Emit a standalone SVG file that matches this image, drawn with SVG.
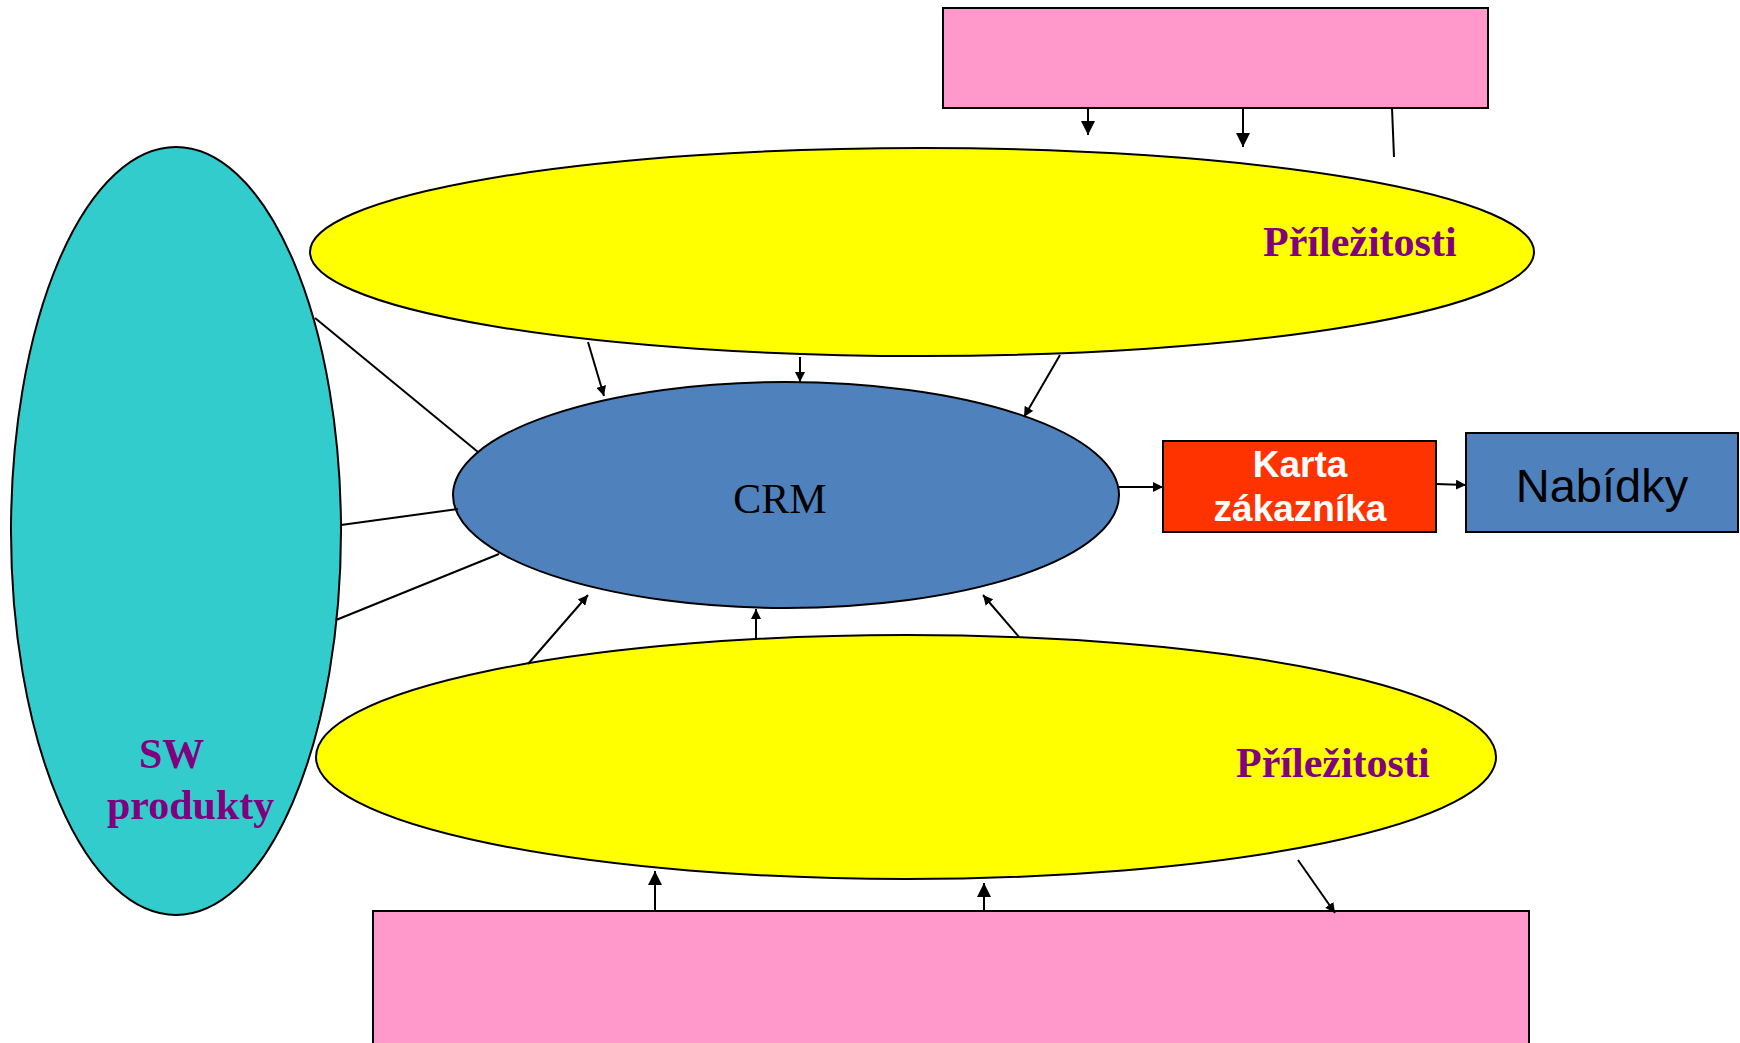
<svg xmlns="http://www.w3.org/2000/svg" width="1740" height="1043" viewBox="0 0 1740 1043">
<defs>
<style>
.sh{stroke:#000;stroke-width:2}
.ln{stroke:#000;stroke-width:2;fill:none}
.lab{font-family:"Liberation Serif","Times New Roman",serif;font-weight:bold;font-size:42px;fill:#800080}
</style>
<marker id="big" viewBox="0 0 10 10" refX="10" refY="5" markerWidth="7" markerHeight="7" markerUnits="strokeWidth" orient="auto"><path d="M0,0 L10,5 L0,10 z" fill="#000"/></marker>
<marker id="sm" viewBox="0 0 10 10" refX="10" refY="5" markerWidth="5" markerHeight="5" markerUnits="strokeWidth" orient="auto"><path d="M0,0 L10,5 L0,10 z" fill="#000"/></marker>
</defs>
<rect width="1740" height="1043" fill="#fff"/>
<g id="sw"><ellipse class="sh" cx="176" cy="531" rx="165" ry="384" fill="#33CCCC"/>
<text class="lab" x="139" y="768">SW</text><text class="lab" x="107" y="819">produkty</text></g>
<g id="prilezitosti-top"><ellipse class="sh" cx="922" cy="252" rx="612" ry="104" fill="#FFFF00"/>
<text class="lab" x="1263" y="256">Příležitosti</text></g>
<g id="prilezitosti-bottom"><ellipse class="sh" cx="906" cy="757" rx="590" ry="122" fill="#FFFF00"/>
<text class="lab" x="1236" y="777">Příležitosti</text></g>
<g id="crm"><ellipse class="sh" cx="786" cy="495" rx="333" ry="113" fill="#4F81BD"/>
<text x="780" y="513" text-anchor="middle" font-family="Liberation Serif,serif" font-size="42" fill="#000">CRM</text></g>
<g id="pink-top"><rect class="sh" x="943" y="8" width="545" height="100" fill="#FF99CC"/></g>
<g id="pink-bottom"><rect class="sh" x="373" y="911" width="1156" height="150" fill="#FF99CC"/></g>
<g id="karta"><rect class="sh" x="1163" y="441" width="273" height="91" fill="#FF3300"/>
<text x="1300" y="477" text-anchor="middle" font-family="Liberation Sans,Arial,sans-serif" font-weight="bold" font-size="37" fill="#fff">Karta</text>
<text x="1300" y="521" text-anchor="middle" font-family="Liberation Sans,Arial,sans-serif" font-weight="bold" font-size="37" fill="#fff">zákazníka</text></g>
<g id="nabidky"><rect class="sh" x="1466" y="433" width="272" height="99" fill="#4F81BD"/>
<text x="1602" y="502" text-anchor="middle" font-family="Liberation Sans,Arial,sans-serif" font-size="47" fill="#000">Nabídky</text></g>
<g id="connectors">
<line class="ln" x1="1088" y1="108" x2="1088" y2="135" marker-end="url(#big)"/>
<line class="ln" x1="1243" y1="108" x2="1243" y2="147" marker-end="url(#big)"/>
<line class="ln" x1="1392" y1="108" x2="1394" y2="157"/>
<line class="ln" x1="588" y1="342" x2="604" y2="396" marker-end="url(#sm)"/>
<line class="ln" x1="800" y1="357" x2="800" y2="382" marker-end="url(#sm)"/>
<line class="ln" x1="1060" y1="355" x2="1024" y2="417" marker-end="url(#sm)"/>
<line class="ln" x1="528" y1="664" x2="588" y2="595" marker-end="url(#sm)"/>
<line class="ln" x1="756" y1="638" x2="756" y2="609" marker-end="url(#sm)"/>
<line class="ln" x1="1019" y1="637" x2="983" y2="595" marker-end="url(#sm)"/>
<line class="ln" x1="315" y1="318" x2="478" y2="452"/>
<line class="ln" x1="341" y1="525" x2="458" y2="509"/>
<line class="ln" x1="336" y1="620" x2="499" y2="554"/>
<line class="ln" x1="1119" y1="487" x2="1163" y2="487" marker-end="url(#sm)"/>
<line class="ln" x1="1436" y1="484" x2="1466" y2="485" marker-end="url(#sm)"/>
<line class="ln" x1="655" y1="911" x2="655" y2="871" marker-end="url(#big)"/>
<line class="ln" x1="984" y1="911" x2="984" y2="883" marker-end="url(#big)"/>
<line class="ln" x1="1298" y1="860" x2="1335" y2="913" marker-end="url(#sm)"/>
</g>
</svg>
